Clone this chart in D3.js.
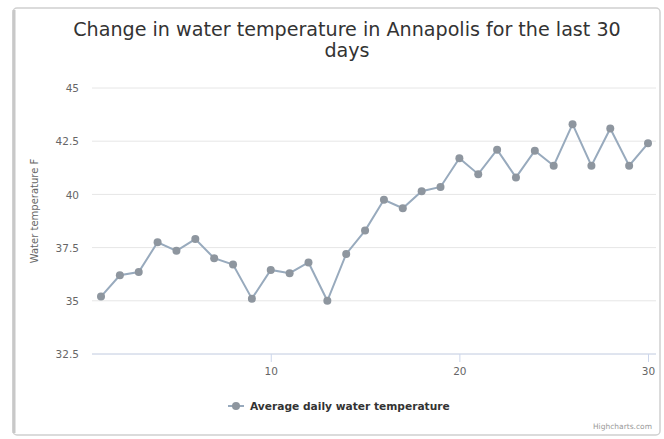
<!DOCTYPE html>
<html><head><meta charset="utf-8">
<script src="https://cdn.jsdelivr.net/npm/d3@7"></script>
<style>body{margin:0;background:#fff}svg{display:block}</style>
</head><body><svg id="c" width="664" height="439"></svg>
<script>
const titleLines = ["Change in water temperature in Annapolis for the last 30", "days"];
const yAxisTitle = "Water temperature F";
const seriesName = "Average daily water temperature";
const days = d3.range(1, 31);
const temps = [35.2, 36.2, 36.35, 37.75, 37.35, 37.9, 37.0, 36.7, 35.1, 36.45,
  36.3, 36.8, 35.0, 37.2, 38.3, 39.75, 39.35, 40.15, 40.35, 41.7,
  40.95, 42.1, 40.8, 42.05, 41.35, 43.3, 41.35, 43.1, 41.35, 42.4];
const yTicks = [32.5, 35, 37.5, 40, 42.5, 45];
const xTicks = [10, 20, 30];

const svg = d3.select("#c");
const font = "'DejaVu Sans', Verdana, sans-serif";
// card
svg.append("rect").attr("x", 13).attr("y", 8).attr("width", 647).attr("height", 427)
  .attr("rx", 4).attr("fill", "#fff").attr("stroke", "#d0d0d0").attr("stroke-width", 1.5);
svg.append("line").attr("x1", 14).attr("x2", 14).attr("y1", 10).attr("y2", 433)
  .attr("stroke", "#c8c8c8").attr("stroke-width", 3);

const x = d3.scaleLinear().domain([1, 30]).range([101, 648]);
const y = d3.scaleLinear().domain([32.5, 45]).range([354, 88]);

// title
const tt = svg.append("text").attr("x", 347).attr("y", 36).attr("text-anchor", "middle")
  .attr("font-family", font).attr("font-size", 18).attr("fill", "#333");
tt.selectAll("tspan").data(titleLines).join("tspan")
  .attr("x", 347).attr("dy", (d, i) => i ? 21 : 0).text(d => d);
// fit first line to reference width
const t0 = tt.select("tspan").node();
const w0 = t0.getComputedTextLength();
if (w0 > 0) tt.attr("font-size", 18 * 548 / w0);

// grid
svg.append("g").selectAll("line").data(yTicks).join("line")
  .attr("x1", 92).attr("x2", 656).attr("y1", d => y(d)).attr("y2", d => y(d))
  .attr("stroke", "#e6e6e6").attr("stroke-width", 1);

// y axis
const ya = svg.append("g").attr("transform", "translate(82,0)")
  .call(d3.axisLeft(y).tickValues(yTicks).tickSize(0).tickFormat(d3.format("")));
ya.select(".domain").remove();
ya.selectAll("text").attr("font-family", font).attr("font-size", 10.5).attr("fill", "#666").attr("dy", "0.35em");

svg.append("text").attr("transform", "translate(38,211) rotate(-90)").attr("text-anchor", "middle")
  .attr("font-family", font).attr("font-size", 10).attr("fill", "#666").text(yAxisTitle);

// x axis
const xa = svg.append("g").attr("transform", "translate(0,354)")
  .call(d3.axisBottom(x).tickValues(xTicks).tickSize(8).tickPadding(6));
xa.select(".domain").attr("stroke", "#ccd6eb").attr("d", "M92,0H656");
xa.selectAll(".tick line").attr("stroke", "#ccd6eb");
xa.selectAll("text").attr("font-family", font).attr("font-size", 10.5).attr("fill", "#666");

// series
const data = days.map((d, i) => ({d, v: temps[i]}));
svg.append("path").datum(data)
  .attr("d", d3.line().x(p => x(p.d)).y(p => y(p.v)))
  .attr("fill", "none").attr("stroke", "#98aabd").attr("stroke-width", 2);
svg.append("g").selectAll("circle").data(data).join("circle")
  .attr("cx", p => x(p.d)).attr("cy", p => y(p.v)).attr("r", 4)
  .attr("fill", "#8e969f");

// legend
const lg = svg.append("g").attr("transform", "translate(228,406)");
lg.append("line").attr("x1", 0).attr("x2", 16).attr("y1", 0).attr("y2", 0)
  .attr("stroke", "#98aabd").attr("stroke-width", 2);
lg.append("circle").attr("cx", 8).attr("cy", 0).attr("r", 4).attr("fill", "#8e969f");
const lt = lg.append("text").attr("x", 22).attr("y", 4).attr("font-family", font)
  .attr("font-size", 11).attr("font-weight", "bold").attr("fill", "#333").text(seriesName);
const lw = lt.node().getComputedTextLength();
if (lw > 0) lt.attr("font-size", 11 * 200 / lw);

// credits
svg.append("text").attr("x", 652).attr("y", 429).attr("text-anchor", "end")
  .attr("font-family", font).attr("font-size", 7.5).attr("fill", "#999").text("Highcharts.com");
</script></body></html>
